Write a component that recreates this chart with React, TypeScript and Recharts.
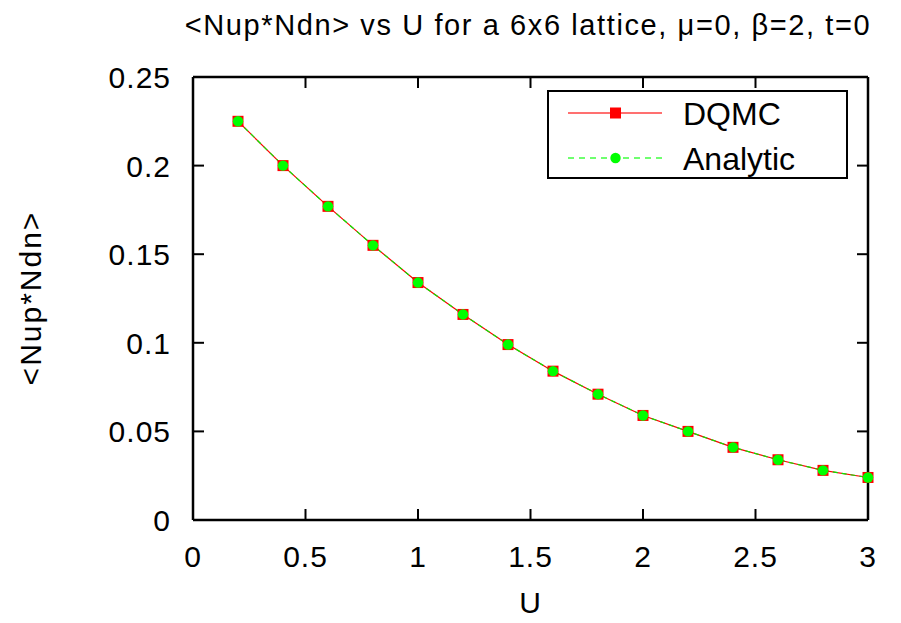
import { LineChart, Line, XAxis, YAxis } from 'recharts'

// valores
const uValues = [0.2, 0.4, 0.6, 0.8, 1.0, 1.2, 1.4, 1.6, 1.8, 2.0, 2.2, 2.4, 2.6, 2.8, 3.0]
const dqmcValues = [0.225, 0.2, 0.177, 0.155, 0.134, 0.116, 0.099, 0.084, 0.071, 0.059, 0.05, 0.041, 0.034, 0.028, 0.024]
const analyticValues = [0.225, 0.2, 0.177, 0.155, 0.134, 0.116, 0.099, 0.084, 0.071, 0.059, 0.05, 0.041, 0.034, 0.028, 0.024]
const xTicks = [0, 0.5, 1, 1.5, 2, 2.5, 3]
const yTicks = [0, 0.05, 0.1, 0.15, 0.2, 0.25]

const chartData = uValues.map((u, i) => ({
  U: u,
  DQMC: dqmcValues[i],
  Analytic: analyticValues[i],
}))

const FONT = '"Liberation Sans", Arial, Helvetica, sans-serif'
const TICK_LEN = 11

const BottomTick = ({ x, y, payload }: any) => (
  <g>
    <line x1={x} y1={y} x2={x} y2={y - TICK_LEN} stroke="#000" strokeWidth={2} />
    <text x={x} y={y + 47} textAnchor="middle" fontSize={30} letterSpacing={1} fontFamily={FONT} fill="#000">
      {payload.value}
    </text>
  </g>
)

const LeftTick = ({ x, y, payload }: any) => (
  <g>
    <line x1={x} y1={y} x2={x + TICK_LEN} y2={y} stroke="#000" strokeWidth={2} />
    <text x={x - 22} y={y + 11} textAnchor="end" fontSize={30} letterSpacing={1} fontFamily={FONT} fill="#000">
      {payload.value}
    </text>
  </g>
)

const TopTick = ({ x, y }: any) => (
  <line x1={x} y1={y} x2={x} y2={y + TICK_LEN} stroke="#000" strokeWidth={2} />
)

const RightTick = ({ x, y }: any) => (
  <line x1={x} y1={y} x2={x - TICK_LEN} y2={y} stroke="#000" strokeWidth={2} />
)

const SquareDot = ({ cx, cy, index }: any) => (
  <rect key={`sq-${index}`} x={cx - 5.5} y={cy - 5.5} width={11} height={11} fill="#ff0000" />
)

const CircleDot = ({ cx, cy, index }: any) => (
  <circle key={`ci-${index}`} cx={cx} cy={cy} r={5.2} fill="#00ff00" />
)

export default function App() {
  const axisLine = { stroke: '#000', strokeWidth: 2.5 }
  return (
    <div style={{ position: 'absolute', left: 0, top: 0, width: 901, height: 623, background: '#fff', fontFamily: FONT }}>
      <LineChart width={901} height={623} data={chartData} margin={{ top: 76, right: 32, bottom: 0, left: 0 }}>
        <text x={528} y={35} textAnchor="middle" fontSize={29} letterSpacing={1.6} fontFamily={FONT} fill="#000">
          {'<Nup*Ndn> vs U for a 6x6 lattice, μ=0, β=2, t=0'}
        </text>
        <text x={41} y={298} textAnchor="middle" fontSize={30} letterSpacing={2} fontFamily={FONT} fill="#000" transform="rotate(-90, 41, 298)">
          {'<Nup*Ndn>'}
        </text>
        <text x={530} y={613} textAnchor="middle" fontSize={30} fontFamily={FONT} fill="#000">
          U
        </text>
        <XAxis
          dataKey="U"
          type="number"
          domain={[0, 3]}
          ticks={xTicks}
          height={103}
          tickSize={0}
          tickMargin={0}
          tickLine={false}
          axisLine={axisLine}
          tick={<BottomTick />}
          interval={0}
        />
        <XAxis
          xAxisId="top"
          orientation="top"
          dataKey="U"
          type="number"
          domain={[0, 3]}
          allowDataOverflow
          ticks={xTicks}
          height={1}
          tickSize={0}
          tickMargin={0}
          tickLine={false}
          axisLine={axisLine}
          tick={<TopTick />}
          interval={0}
        />
        <YAxis
          type="number"
          domain={[0, 0.25]}
          ticks={yTicks}
          width={193}
          tickSize={0}
          tickMargin={0}
          tickLine={false}
          axisLine={axisLine}
          tick={<LeftTick />}
          interval={0}
        />
        <YAxis
          yAxisId="right"
          orientation="right"
          type="number"
          domain={[0, 0.25]}
          allowDataOverflow
          ticks={yTicks}
          width={1}
          tickSize={0}
          tickMargin={0}
          tickLine={false}
          axisLine={axisLine}
          tick={<RightTick />}
          interval={0}
        />
        <Line
          type="linear"
          dataKey="DQMC"
          stroke="#ff0000"
          strokeWidth={1.2}
          dot={<SquareDot />}
          activeDot={false}
          isAnimationActive={false}
        />
        <Line
          type="linear"
          dataKey="Analytic"
          stroke="#00ee00"
          strokeWidth={1.2}
          strokeDasharray="5 4"
          dot={<CircleDot />}
          activeDot={false}
          isAnimationActive={false}
        />
      </LineChart>
      <div
        style={{
          position: 'absolute',
          left: 547,
          top: 90,
          width: 297,
          height: 85,
          border: '2px solid #000',
          background: '#fff',
        }}
      >
        <svg width={297} height={85} style={{ position: 'absolute', left: 0, top: 0 }}>
          <line x1={19} y1={21} x2={113} y2={21} stroke="#ff4040" strokeWidth={1.5} />
          <rect x={61} y={15.5} width={11} height={11} fill="#ff0000" />
          <line x1={19} y1={66} x2={113} y2={66} stroke="#40ff40" strokeWidth={1.5} strokeDasharray="6 5" />
          <circle cx={66.5} cy={66} r={5.2} fill="#00ff00" />
          <text x={134} y={33} fontSize={32} fontFamily={FONT} fill="#000">DQMC</text>
          <text x={134} y={78} fontSize={32} fontFamily={FONT} fill="#000">Analytic</text>
        </svg>
      </div>
    </div>
  )
}
